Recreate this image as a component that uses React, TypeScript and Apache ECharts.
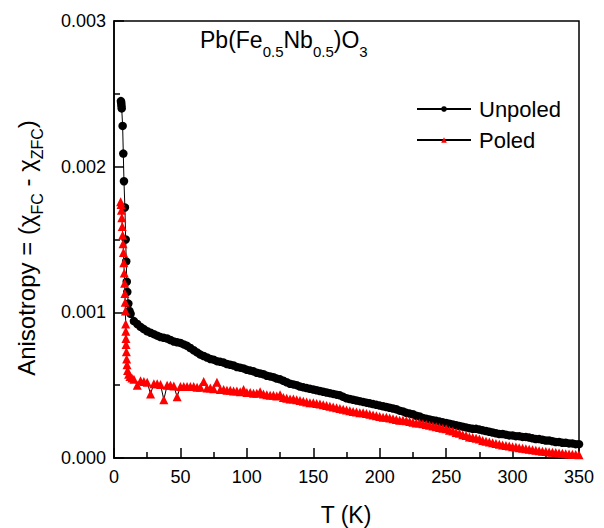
import React, { useEffect, useRef } from "react";
import * as echarts from "echarts";

// Temperature (K) and anisotropy (in units of 1e-3)
const unpoledT = [
  5.2, 5.4, 5.6, 5.8, 6.5, 7.0, 7.5, 8.2, 8.8, 9.2, 9.6, 10.0, 10.8, 11.6,
  12.5, 15, 17.5, 20, 22.5, 25, 27.5, 30, 32.5, 35,
  37.5, 40, 42.5, 45, 47.5, 50, 52.5, 55, 57.5, 60,
  62.5, 65, 67.5, 70, 72.5, 75, 77.5, 80, 82.5, 85,
  87.5, 90, 92.5, 95, 97.5, 100, 102.5, 105, 107.5, 110,
  112.5, 115, 117.5, 120, 122.5, 125, 127.5, 130, 132.5, 135,
  137.5, 140, 142.5, 145, 147.5, 150, 152.5, 155, 157.5, 160,
  162.5, 165, 167.5, 170, 172.5, 175, 177.5, 180, 182.5, 185,
  187.5, 190, 192.5, 195, 197.5, 200, 202.5, 205, 207.5, 210,
  212.5, 215, 217.5, 220, 222.5, 225, 227.5, 230, 232.5, 235,
  237.5, 240, 242.5, 245, 247.5, 250, 252.5, 255, 257.5, 260,
  262.5, 265, 267.5, 270, 272.5, 275, 277.5, 280, 282.5, 285,
  287.5, 290, 292.5, 295, 297.5, 300, 302.5, 305, 307.5, 310,
  312.5, 315, 317.5, 320, 322.5, 325, 327.5, 330, 332.5, 335,
  337.5, 340, 342.5, 345, 347.5, 350,
];
const unpoledMilli = [
  2.45, 2.44, 2.42, 2.40, 2.28, 2.09, 1.90, 1.72, 1.50, 1.35, 1.21, 1.14, 1.06, 1.01,
  0.99, 0.94, 0.92, 0.90, 0.885, 0.87, 0.86, 0.85, 0.84, 0.83,
  0.825, 0.82, 0.81, 0.80, 0.795, 0.79, 0.78, 0.77, 0.755, 0.74,
  0.725, 0.71, 0.70, 0.69, 0.68, 0.675, 0.665, 0.66, 0.655, 0.645,
  0.64, 0.635, 0.625, 0.62, 0.615, 0.605, 0.60, 0.595, 0.585, 0.58,
  0.575, 0.565, 0.56, 0.555, 0.545, 0.54, 0.53, 0.52, 0.51, 0.505,
  0.50, 0.49, 0.485, 0.48, 0.475, 0.47, 0.465, 0.46, 0.455, 0.45,
  0.445, 0.44, 0.435, 0.43, 0.42, 0.41, 0.405, 0.40, 0.395, 0.39,
  0.385, 0.38, 0.375, 0.37, 0.365, 0.36, 0.355, 0.35, 0.345, 0.34,
  0.335, 0.325, 0.32, 0.31, 0.305, 0.30, 0.29, 0.285, 0.275, 0.27,
  0.265, 0.26, 0.255, 0.25, 0.245, 0.24, 0.235, 0.23, 0.225, 0.22,
  0.215, 0.21, 0.205, 0.20, 0.20, 0.195, 0.19, 0.185, 0.18, 0.175,
  0.17, 0.165, 0.165, 0.16, 0.155, 0.155, 0.15, 0.15, 0.145, 0.145,
  0.14, 0.135, 0.13, 0.13, 0.125, 0.12, 0.12, 0.115, 0.11, 0.11,
  0.105, 0.105, 0.10, 0.10, 0.095, 0.095,
];

const poledT = [
  5.0, 5.3, 5.6, 5.9, 6.2, 6.5, 6.8, 7.1, 7.4, 7.7, 8.0, 8.2, 8.4, 8.6, 8.8, 8.9,
  9.0, 9.1, 9.3, 9.5, 9.8, 10.2, 11, 12, 13.5, 15,
  17.5, 20, 22.5, 25, 27.5, 30, 32.5, 35, 37.5, 40,
  42.5, 45, 47.5, 50, 52.5, 55, 57.5, 60, 62.5, 65,
  67.5, 70, 72.5, 75, 77.5, 80, 82.5, 85, 87.5, 90,
  92.5, 95, 97.5, 100, 102.5, 105, 107.5, 110, 112.5, 115,
  117.5, 120, 122.5, 125, 127.5, 130, 132.5, 135, 137.5, 140,
  142.5, 145, 147.5, 150, 152.5, 155, 157.5, 160, 162.5, 165,
  167.5, 170, 172.5, 175, 177.5, 180, 182.5, 185, 187.5, 190,
  192.5, 195, 197.5, 200, 202.5, 205, 207.5, 210, 212.5, 215,
  217.5, 220, 222.5, 225, 227.5, 230, 232.5, 235, 237.5, 240,
  242.5, 245, 247.5, 250, 252.5, 255, 257.5, 260, 262.5, 265,
  267.5, 270, 272.5, 275, 277.5, 280, 282.5, 285, 287.5, 290,
  292.5, 295, 297.5, 300, 302.5, 305, 307.5, 310, 312.5, 315,
  317.5, 320, 322.5, 325, 327.5, 330, 332.5, 335, 337.5, 340,
  342.5, 345, 347.5, 350,
];
const poledMilli = [
  1.76, 1.74, 1.70, 1.65, 1.59, 1.53, 1.47, 1.41, 1.34, 1.27, 1.20, 1.13, 1.07, 1.01, 0.92, 0.87,
  0.82, 0.78, 0.73, 0.68, 0.64, 0.60, 0.575, 0.56, 0.55, 0.54,
  0.50, 0.53, 0.525, 0.52, 0.44, 0.51, 0.51, 0.505, 0.40, 0.50,
  0.50, 0.495, 0.42, 0.49, 0.49, 0.49, 0.49, 0.49, 0.485, 0.485,
  0.525, 0.48, 0.48, 0.475, 0.52, 0.47, 0.47, 0.465, 0.465, 0.46,
  0.46, 0.455, 0.47, 0.45, 0.45, 0.445, 0.445, 0.455, 0.44, 0.435,
  0.43, 0.43, 0.425, 0.435, 0.415, 0.41, 0.405, 0.405, 0.40, 0.395,
  0.39, 0.385, 0.38, 0.38, 0.375, 0.37, 0.365, 0.36, 0.355, 0.35,
  0.345, 0.34, 0.335, 0.33, 0.325, 0.32, 0.315, 0.31, 0.31, 0.305,
  0.30, 0.295, 0.29, 0.285, 0.28, 0.28, 0.275, 0.27, 0.265, 0.26,
  0.26, 0.255, 0.25, 0.245, 0.24, 0.24, 0.235, 0.23, 0.225, 0.22,
  0.215, 0.21, 0.205, 0.20, 0.19, 0.185, 0.175, 0.17, 0.16, 0.155,
  0.145, 0.14, 0.135, 0.13, 0.12, 0.115, 0.11, 0.105, 0.10, 0.095,
  0.09, 0.085, 0.082, 0.078, 0.075, 0.07, 0.067, 0.063, 0.06, 0.057,
  0.054, 0.05, 0.047, 0.045, 0.042, 0.04, 0.038, 0.035, 0.033, 0.03,
  0.028, 0.026, 0.024, 0.022,
];

const seriesNames = ["Unpoled", "Poled"];
const xMin = 0, xMax = 350, xInterval = 50;
const yMin = 0, yMax = 0.003, yInterval = 0.001;

const FONT = "Arial, 'Liberation Sans', sans-serif";

export default function App() {
  const ref = useRef<HTMLDivElement>(null);
  useEffect(() => {
    document.body.style.margin = "0";
    if (!ref.current) return;
    const chart = echarts.init(ref.current, undefined, { renderer: "svg" });
    const unpoled = unpoledT.map((t, i) => [t, unpoledMilli[i] / 1000]);
    const poled = poledT.map((t, i) => [t, poledMilli[i] / 1000]);
    const black = "#000";
    const axisCommon = {
      axisLine: { show: true, onZero: false, lineStyle: { color: black, width: 1.5 } },
      axisTick: { show: true, inside: true, length: 10, lineStyle: { color: black, width: 1.5 } },
      minorTick: { show: true, splitNumber: 2, length: 6, lineStyle: { color: black, width: 1.5 } },
      splitLine: { show: false },
    };
    const richTitle = {
      n: { fontSize: 23, lineHeight: 23, fontFamily: FONT, color: black },
      s: { fontSize: 15, lineHeight: 15, fontFamily: FONT, color: black, padding: [22, 0, 0, 0] },
    };
    const richY = {
      n: { fontSize: 24, lineHeight: 24, fontFamily: FONT, color: black },
      s: { fontSize: 16, lineHeight: 16, fontFamily: FONT, color: black, padding: [22, 0, 0, 0] },
    };
    const option = {
      animation: false,
      backgroundColor: "#fff",
      grid: {
        left: 114, right: 25, top: 21, bottom: 70,
        show: true, borderColor: black, borderWidth: 1.5, backgroundColor: "transparent",
      },
      xAxis: {
        type: "value", min: xMin, max: xMax, interval: xInterval,
        ...axisCommon,
        axisLabel: { color: black, fontSize: 18, margin: 10, fontFamily: FONT },
      },
      yAxis: {
        type: "value", min: yMin, max: yMax, interval: yInterval,
        ...axisCommon,
        axisLabel: {
          color: black, fontSize: 18, margin: 8, fontFamily: FONT,
          formatter: (v: number) => v.toFixed(3),
        },
      },
      legend: {
        data: seriesNames,
        orient: "vertical",
        left: 411, top: 93,
        itemWidth: 54, itemHeight: 7, itemGap: 9,
        textStyle: { fontSize: 22, lineHeight: 22, color: black, fontFamily: FONT, padding: [0, 0, 0, 3] },
      },
      graphic: [
        {
          type: "text", x: 200, y: 40, z: 10,
          style: {
            text: "{n|Pb(Fe}{s|0.5}{n|Nb}{s|0.5}{n|)O}{s|3}",
            rich: richTitle, align: "left", verticalAlign: "middle",
          },
        },
        {
          type: "text", x: 26, y: 248, rotation: Math.PI / 2, z: 10,
          style: {
            text: "{n|Anisotropy = (χ}{s|FC}{n| - χ}{s|ZFC}{n|)}",
            rich: richY, align: "center", verticalAlign: "middle",
          },
        },
        {
          type: "text", x: 346, y: 515, z: 10,
          style: {
            text: "T (K)", fontSize: 23, fontFamily: FONT, fill: black,
            align: "center", verticalAlign: "middle",
          },
        },
      ],
      series: [
        {
          name: seriesNames[0], type: "line", data: unpoled,
          symbol: "circle", symbolSize: 8.5, showSymbol: true,
          itemStyle: { color: black },
          lineStyle: { color: black, width: 1 },
          z: 2,
        },
        {
          name: seriesNames[1], type: "line", data: poled,
          symbol: "triangle", symbolSize: 9, showSymbol: true,
          itemStyle: { color: "#ff0000" },
          lineStyle: { color: black, width: 1 },
          z: 3,
        },
      ],
    };
    chart.setOption(option as any);
    return () => chart.dispose();
  }, []);
  return <div ref={ref} style={{ width: 604, height: 528 }} />;
}
